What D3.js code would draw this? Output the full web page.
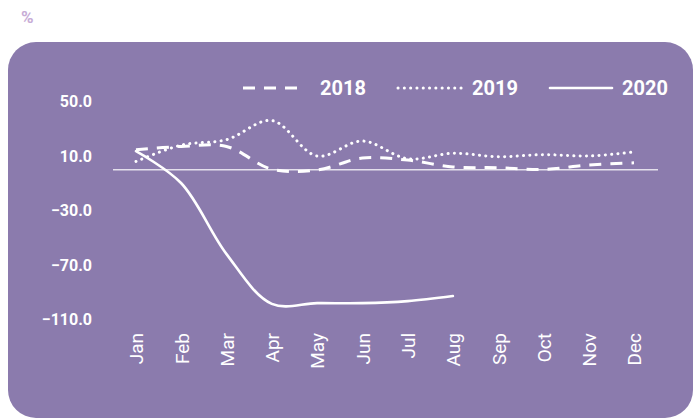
<!DOCTYPE html>
<html>
<head>
<meta charset="utf-8">
<script src="https://cdn.jsdelivr.net/npm/d3@7"></script>
<style>
  body { margin: 0; background: #fff; }
  svg { display: block; }
</style>
</head>
<body>
<div id="myPlot"></div>
<script>
const months = ['Jan', 'Feb', 'Mar', 'Apr', 'May', 'Jun', 'Jul', 'Aug', 'Sep', 'Oct', 'Nov', 'Dec'];
const values2018 = [14.5, 17, 17, 0.3, -0.3, 8.5, 7, 2, 1.4, 0.2, 3.4, 5];
const values2019 = [6, 18, 22, 36, 10, 21, 8, 12, 9.5, 11, 10, 13];
const values2020 = [13.6, -10, -62, -98.5, -98, -98, -96.5, -92.8];
const yTicks = [50, 10, -30, -70, -110];

const width = 699;
const height = 418;

const svg = d3.select('#myPlot')
  .append('svg')
    .attr('width', width)
    .attr('height', height);

// "%" unit label
svg.append('text')
  .attr('x', 21)
  .attr('y', 23)
  .attr('fill', '#c7acd6')
  .style('font-family', 'Roboto, sans-serif')
  .style('font-weight', 'bold')
  .style('font-size', '17px')
  .text('%');

// purple panel
svg.append('rect')
  .attr('x', 8)
  .attr('y', 42)
  .attr('width', 685)
  .attr('height', 376)
  .attr('rx', 28)
  .attr('fill', '#8b7bad');

const x = d3.scalePoint()
  .domain(months)
  .range([136, 634]);

const y = d3.scaleLinear()
  .domain([-110, 50])
  .range([319.5, 101.5]);

// zero line
svg.append('line')
  .attr('x1', 113)
  .attr('x2', 658)
  .attr('y1', y(0))
  .attr('y2', y(0))
  .attr('stroke', '#e4e0ec')
  .attr('stroke-width', 1.5);

// Y axis labels
const yAxis = svg.append('g')
  .attr('transform', 'translate(92,0)')
  .call(d3.axisLeft(y).tickValues(yTicks).tickFormat(d3.format('.1f')).tickSize(0).tickPadding(0));
yAxis.select('.domain').remove();
yAxis.selectAll('text')
  .attr('fill', '#fff')
  .style('font-family', 'Roboto, sans-serif')
  .style('font-weight', 'bold')
  .style('font-size', '16px');

// X axis labels (rotated)
const xAxis = svg.append('g')
  .attr('transform', 'translate(0,333)')
  .call(d3.axisBottom(x).tickSize(0).tickPadding(0));
xAxis.select('.domain').remove();
xAxis.selectAll('text')
  .attr('transform', 'rotate(-90)')
  .attr('x', 0)
  .attr('y', 0)
  .attr('dy', '0.36em')
  .style('text-anchor', 'end')
  .attr('fill', '#fff')
  .style('font-family', 'Roboto, sans-serif')
  .style('font-size', '19px');

const line = d3.line()
  .x((d, i) => x(months[i]))
  .y((d) => y(d))
  .curve(d3.curveCatmullRom.alpha(0.5));

const series = [
  { name: '2018', values: values2018, dash: '12,9', cap: 'butt', w: 3 },
  { name: '2019', values: values2019, dash: '0.1,6.2', cap: 'round', w: 3 },
  { name: '2020', values: values2020, dash: null, cap: 'round', w: 2.6 }
];

series.forEach((s) => {
  svg.append('path')
    .datum(s.values)
    .attr('d', line)
    .attr('fill', 'none')
    .attr('stroke', '#fff')
    .attr('stroke-width', s.w)
    .attr('stroke-linecap', s.cap)
    .attr('stroke-dasharray', s.dash);
});

// legend
const legend = [
  { x1: 243, x2: 300, tx: 320 },
  { x1: 398, x2: 466, tx: 472 },
  { x1: 550, x2: 612, tx: 622 }
];
legend.forEach((l, i) => {
  const s = series[i];
  svg.append('line')
    .attr('x1', l.x1)
    .attr('x2', l.x2)
    .attr('y1', 88)
    .attr('y2', 88)
    .attr('stroke', '#fff')
    .attr('stroke-width', s.w)
    .attr('stroke-linecap', s.cap)
    .attr('stroke-dasharray', s.dash);
  svg.append('text')
    .attr('x', l.tx)
    .attr('y', 95)
    .attr('fill', '#fff')
    .style('font-family', 'Roboto, sans-serif')
    .style('font-weight', 'bold')
    .style('font-size', '20px')
    .text(s.name);
});
</script>
</body>
</html>
